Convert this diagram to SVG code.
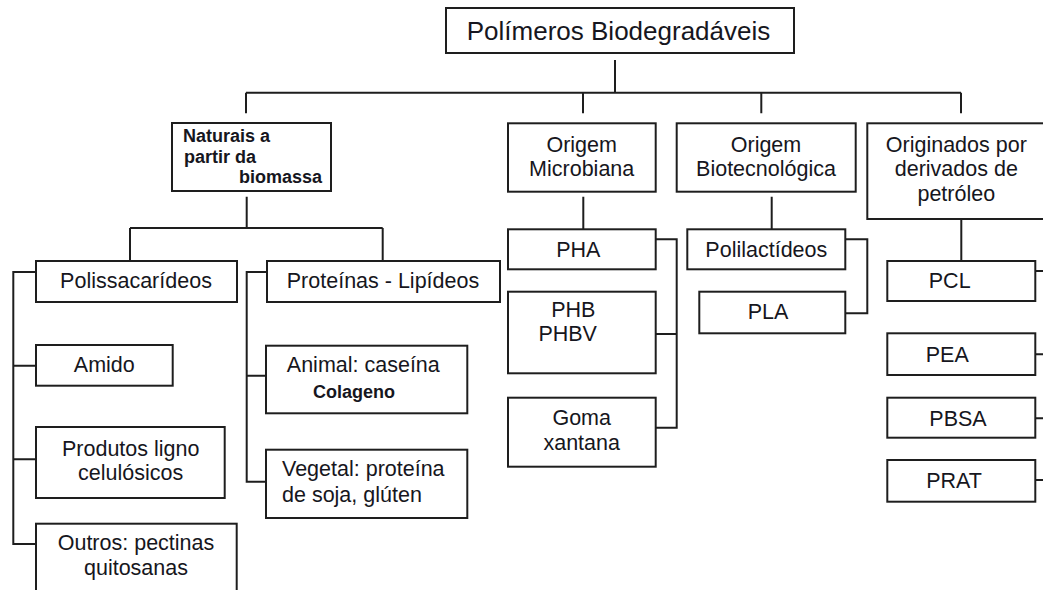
<svg xmlns="http://www.w3.org/2000/svg" width="1043" height="590" viewBox="0 0 1043 590">
<style>
.box{fill:#fff;stroke:#1e1e1e;stroke-width:2}
.ln{fill:none;stroke:#1e1e1e;stroke-width:2}
text{font-family:"Liberation Sans",Arial,sans-serif;font-size:21.5px;fill:#161620;text-anchor:middle}
.t{font-size:26px}
.b{font-weight:bold;font-size:18px}
.s{text-anchor:start}
</style>
<rect width="1043" height="590" fill="#fff"/>
<g id="connectors">
<path class="ln" d="M615 60V92.7M246 92.7H961M246 92.7V113.3M583 92.7V113.3M761.3 92.7V113.3M961 92.7V113.3"/>
<path class="ln" d="M246.7 196.7V228M130 228H382.7M130 228V261M382.7 228V261"/>
<path class="ln" d="M36 272H13.3V544H36M13.3 365.7H36M13.3 459.3H36"/>
<path class="ln" d="M267 272H246.7V481.7H266M246.7 375.7H266"/>
<path class="ln" d="M583.3 196.7V229.3M655.7 239.3H676.7V427.7H655.7M655.7 334H676.7"/>
<path class="ln" d="M771.7 196.7V229.3M845.3 239.3H867.3V313.3H845.3"/>
<path class="ln" d="M961.3 219V261M1035.3 271H1050M1035.3 354.3H1050M1035.3 418.3H1050M1035.3 480H1050"/>
</g>
<g id="root"><rect class="box" x="446" y="8" width="348" height="45"/><text class="t" x="618.5" y="40">Polímeros Biodegradáveis</text></g>
<g id="naturais"><rect class="box" x="172" y="123" width="159" height="68"/>
<text class="b s" x="183" y="141.7">Naturais a</text><text class="b s" x="184" y="163">partir da</text><text class="b s" x="239" y="183.3">biomassa</text></g>
<g id="microbiana"><rect class="box" x="508" y="123.3" width="147.7" height="68.4"/><text x="581.7" y="151.7">Origem</text><text x="581.7" y="176">Microbiana</text></g>
<g id="biotec"><rect class="box" x="676.7" y="123.3" width="179" height="68.4"/><text x="766" y="151.7">Origem</text><text x="766" y="176">Biotecnológica</text></g>
<g id="petroleo"><rect class="box" x="867.3" y="123.3" width="190" height="95.7"/><text x="956.3" y="151.7">Originados por</text><text x="956.3" y="176">derivados de</text><text x="956.3" y="201">petróleo</text></g>
<g id="polissacarideos"><rect class="box" x="36" y="261" width="201" height="41"/><text x="136" y="288">Polissacarídeos</text></g>
<g id="proteinas"><rect class="box" x="267" y="261" width="233" height="41"/><text x="383" y="288">Proteínas - Lipídeos</text></g>
<g id="amido"><rect class="box" x="36" y="345" width="136.7" height="40.7"/><text x="104.3" y="371.7">Amido</text></g>
<g id="produtos"><rect class="box" x="36" y="427" width="188.7" height="71"/><text x="130.7" y="456">Produtos ligno</text><text x="130.7" y="480">celulósicos</text></g>
<g id="outros"><rect class="box" x="36" y="523.7" width="200.7" height="80"/><text x="136" y="550">Outros: pectinas</text><text x="136" y="575">quitosanas</text></g>
<g id="animal"><rect class="box" x="266" y="345.7" width="201.3" height="67.6"/><text x="363.3" y="371.7">Animal: caseína</text><text class="b" x="354" y="397.7">Colageno</text></g>
<g id="vegetal"><rect class="box" x="266" y="449.7" width="201.3" height="68.3"/><text class="s" x="282" y="475.7">Vegetal: proteína</text><text class="s" x="282" y="501.7">de soja, glúten</text></g>
<g id="pha"><rect class="box" x="508" y="229.3" width="147.7" height="40"/><text x="578.3" y="256.7">PHA</text></g>
<g id="phb"><rect class="box" x="508" y="291.7" width="147.7" height="81.6"/><text x="573.3" y="317">PHB</text><text x="567.7" y="341">PHBV</text></g>
<g id="goma"><rect class="box" x="508" y="397.7" width="147.7" height="69"/><text x="581.7" y="425">Goma</text><text x="581.7" y="450">xantana</text></g>
<g id="polilactideos"><rect class="box" x="687.3" y="229.3" width="158" height="40"/><text x="766.3" y="256.7">Polilactídeos</text></g>
<g id="pla"><rect class="box" x="699.3" y="291.7" width="146" height="41.6"/><text x="768" y="319">PLA</text></g>
<g id="pcl"><rect class="box" x="887.3" y="261" width="148" height="40"/><text x="949.7" y="288.3">PCL</text></g>
<g id="pea"><rect class="box" x="887.3" y="333.3" width="148" height="41.7"/><text x="947.3" y="361.7">PEA</text></g>
<g id="pbsa"><rect class="box" x="887.3" y="397.7" width="148" height="40"/><text x="958" y="425.7">PBSA</text></g>
<g id="prat"><rect class="box" x="887.3" y="460" width="148" height="41.7"/><text x="954" y="487.7">PRAT</text></g>
</svg>
